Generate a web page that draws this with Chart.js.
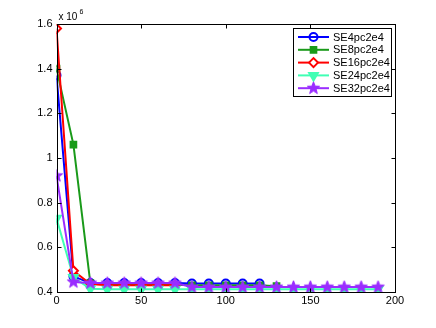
<!DOCTYPE html>
<html><head><meta charset="utf-8">
<script src="https://cdn.jsdelivr.net/npm/chart.js@4/dist/chart.umd.min.js"></script>
<style>html,body{margin:0;padding:0;background:#fff}#wrap{width:436px;height:328px}</style>
</head><body><div id="wrap"><canvas id="c" width="436" height="328"></canvas></div>
<script>
const seriesNames = ['SE4pc2e4','SE8pc2e4','SE16pc2e4','SE24pc2e4','SE32pc2e4'];
const xSE4  = [0,10,20,30,40,50,60,70,80,90,100,110,120];
const ySE4  = [1370000,470000,440000,440000,440000,440000,440000,440000,438000,438000,438000,438000,438000];
const xSE8  = [0,10,20,30,40,50,60,70,80,90,100,110,120,130];
const ySE8  = [1400000,1060000,440000,432000,432000,432000,432000,432000,430000,430000,430000,430000,430000,426000];
const xSE16 = [0,10,20,30,40,50,60,70];
const ySE16 = [1580000,495000,436000,430000,430000,430000,430000,430000];
const xSE24 = [0,10,20,30,40,50,60,70,80,90,100,110,120,130,140,150,160,170,180,190];
const ySE24 = [730000,465000,415000,412000,412000,412000,412000,412000,412000,412000,412000,412000,412000,412000,412000,412000,412000,412000,412000,412000];
const xSE32 = [0,10,20,30,40,50,60,70,80,90,100,110,120,130,140,150,160,170,180,190];
const ySE32 = [920000,445000,440000,440000,440000,440000,440000,440000,422000,422000,422000,422000,422000,422000,422000,422000,422000,422000,422000,422000];
const xTicks = [0,50,100,150,200];
const yTicks = [400000,600000,800000,1000000,1200000,1400000,1600000];

const colors = ['#0000ff','#1a9a1a','#ff0000','#40ffb4','#9a2cff'];
const FONT = '"Liberation Sans", Arial, sans-serif';

function starCanvas(color, r){
  const s = Math.ceil(r*2+2), c = document.createElement('canvas');
  c.width = s; c.height = s;
  const g = c.getContext('2d');
  g.beginPath();
  for(let i=0;i<10;i++){
    const a = -Math.PI/2 + i*Math.PI/5;
    const rr = i%2===0 ? r : r*0.42;
    const px = s/2 + rr*Math.cos(a), py = s/2 + rr*Math.sin(a);
    i===0 ? g.moveTo(px,py) : g.lineTo(px,py);
  }
  g.closePath(); g.fillStyle = color; g.fill();
  g.strokeStyle = color; g.lineWidth = 1; g.stroke();
  return c;
}
const star = starCanvas(colors[4], 6.5);

function pts(xs, ys){ return xs.map((x,i)=>({x:x, y:ys[i]})); }

const styles = [
  {pointStyle:'circle', radius:4, bg:'rgba(0,0,0,0)', rot:0},
  {pointStyle:'rect', radius:4, bg:colors[1], rot:0},
  {pointStyle:'rectRot', radius:4.5, bg:'#ffffff', rot:0},
  {pointStyle:'triangle', radius:5, bg:colors[3], rot:180},
  {pointStyle:star, radius:6, bg:colors[4], rot:0}
];
const dataX = [xSE4,xSE8,xSE16,xSE24,xSE32];
const dataY = [ySE4,ySE8,ySE16,ySE24,ySE32];

const datasets = seriesNames.map((n,i)=>({
  label:n, data:pts(dataX[i],dataY[i]),
  borderColor:colors[i], backgroundColor:colors[i], borderWidth:2,
  pointStyle:styles[i].pointStyle, pointRadius:styles[i].radius,
  pointBackgroundColor:styles[i].bg, pointBorderColor:colors[i], pointBorderWidth:2,
  pointRotation:styles[i].rot, tension:0, order:4-i
}));

const matlabPlugin = {
  id:'matlab',
  afterDraw(chart){
    const g = chart.ctx, a = chart.chartArea;
    const xs = chart.scales.x, ys = chart.scales.y;
    g.save();
    g.strokeStyle = '#000'; g.lineWidth = 1;
    const L = Math.round(a.left)+0.5, R = Math.round(a.right)+0.5, T = Math.round(a.top)+0.5, B = Math.round(a.bottom)+0.5;
    g.strokeRect(L, T, R-L, B-T);
    g.beginPath();
    xTicks.forEach(v=>{ const p = Math.round(xs.getPixelForValue(v))+0.5;
      g.moveTo(p,B); g.lineTo(p,B-4); g.moveTo(p,T); g.lineTo(p,T+4); });
    yTicks.forEach(v=>{ const p = Math.round(ys.getPixelForValue(v))+0.5;
      g.moveTo(L,p); g.lineTo(L+4,p); g.moveTo(R,p); g.lineTo(R-4,p); });
    g.stroke();
    // exponent label
    g.fillStyle = '#000'; g.textBaseline = 'alphabetic'; g.textAlign = 'left';
    g.font = '10px ' + FONT;
    g.fillText('x 10', L+1, T-5);
    g.font = '7px ' + FONT;
    g.fillText('6', L+22, T-11);
    // legend
    const lx = 293, ly = 28, lw = 98, lh = 68;
    g.fillStyle = '#fff'; g.fillRect(lx, ly, lw, lh);
    g.strokeStyle = '#000'; g.lineWidth = 1;
    g.strokeRect(lx+0.5, ly+0.5, lw, lh);
    chart.data.datasets.forEach((ds,i)=>{
      const yy = ly + 9 + i*12.8;
      g.strokeStyle = ds.borderColor; g.lineWidth = 2;
      g.beginPath(); g.moveTo(lx+5, yy); g.lineTo(lx+36, yy); g.stroke();
      g.fillStyle = ds.pointBackgroundColor; g.strokeStyle = ds.pointBorderColor; g.lineWidth = 2;
      Chart.helpers.drawPoint(g, {pointStyle:ds.pointStyle, radius:ds.pointRadius, rotation:ds.pointRotation, borderWidth:2}, lx+20.5, yy);
      g.fillStyle = '#000'; g.font = '11px ' + FONT;
      g.textBaseline = 'middle'; g.textAlign = 'left';
      g.fillText(ds.label, lx+40, yy+0.5);
    });
    g.restore();
  }
};

Chart.register(matlabPlugin);
const chart = new Chart(document.getElementById('c'), {
  type:'line',
  data:{datasets},
  options:{
    responsive:false, animation:false, devicePixelRatio:1,
    layout:{padding:{top:24, right:41, left:0, bottom:0}},
    plugins:{legend:{display:false}, tooltip:{enabled:false}},
    scales:{
      x:{type:'linear', min:0, max:200,
        afterBuildTicks(s){ s.ticks = xTicks.map(v=>({value:v})); },
        afterFit(s){ s.height = 36; },
        grid:{display:false, drawTicks:false}, border:{display:false},
        ticks:{padding:2, color:'#000', font:{family:FONT, size:11}, maxRotation:0,
          callback:v=>String(v)}},
      y:{type:'linear', min:400000, max:1600000,
        afterBuildTicks(s){ s.ticks = yTicks.map(v=>({value:v})); },
        afterFit(s){ s.width = 56.5; },
        grid:{display:false, drawTicks:false}, border:{display:false},
        ticks:{padding:4, color:'#000', font:{family:FONT, size:11},
          callback:v=>String(Math.round(v/1e5)/10)}}
    }
  }
});
</script></body></html>
